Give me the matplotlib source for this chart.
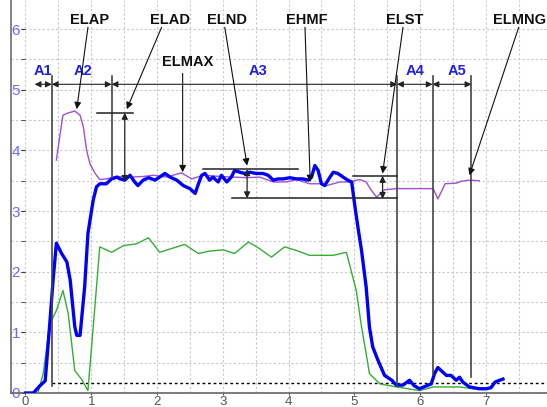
import matplotlib
matplotlib.use("Agg")
import matplotlib.pyplot as plt
from matplotlib.ticker import MultipleLocator

plt.rcParams['font.family'] = ['Liberation Sans', 'DejaVu Sans']

# thick blue curve
blue_x = [0.0, 0.12, 0.22, 0.30, 0.37, 0.42, 0.47, 0.55, 0.63, 0.68, 0.75, 0.78, 0.83, 0.90,
          0.95, 0.98, 1.03, 1.08, 1.13, 1.23, 1.31, 1.39, 1.44, 1.51, 1.59, 1.66, 1.71, 1.79,
          1.87, 1.97, 2.04, 2.12, 2.20, 2.30, 2.40, 2.50, 2.58, 2.63, 2.68, 2.73, 2.80, 2.85,
          2.93, 2.98, 3.06, 3.13, 3.18, 3.26, 3.33, 3.41, 3.51, 3.61, 3.69, 3.77, 3.84, 3.92,
          4.02, 4.12, 4.22, 4.30, 4.35, 4.40, 4.45, 4.50, 4.55, 4.63, 4.68, 4.75, 4.83, 4.90,
          4.96, 5.01, 5.06, 5.11, 5.18, 5.23, 5.28, 5.36, 5.46, 5.57, 5.64, 5.74, 5.84, 5.91,
          5.99, 6.10, 6.17, 6.22, 6.27, 6.32, 6.40, 6.47, 6.55, 6.60, 6.65, 6.75, 6.90, 7.01,
          7.08, 7.14, 7.21, 7.26]
blue_y = [0.0, 0.0, 0.12, 0.20, 1.15, 1.86, 2.47, 2.30, 2.16, 1.86, 1.09, 0.95, 0.95, 1.75,
          2.63, 2.84, 3.18, 3.40, 3.45, 3.45, 3.53, 3.56, 3.53, 3.51, 3.59, 3.48, 3.42, 3.51,
          3.55, 3.51, 3.56, 3.62, 3.56, 3.51, 3.42, 3.37, 3.29, 3.45, 3.59, 3.62, 3.51, 3.56,
          3.48, 3.59, 3.48, 3.56, 3.67, 3.64, 3.62, 3.64, 3.62, 3.62, 3.59, 3.51, 3.53, 3.53,
          3.55, 3.53, 3.53, 3.51, 3.56, 3.75, 3.67, 3.45, 3.42, 3.56, 3.64, 3.62, 3.56, 3.51,
          3.48, 3.07, 2.70, 2.35, 1.75, 1.09, 0.76, 0.54, 0.29, 0.21, 0.13, 0.13, 0.21, 0.12,
          0.07, 0.12, 0.15, 0.32, 0.42, 0.37, 0.29, 0.29, 0.21, 0.26, 0.18, 0.10, 0.07, 0.07,
          0.09, 0.18, 0.21, 0.23]

# thin green curve
green_x = [0.19, 0.27, 0.37, 0.47, 0.57, 0.65, 0.75, 0.85, 0.95, 1.03, 1.13, 1.31, 1.49,
           1.69, 1.87, 2.04, 2.42, 2.63, 2.80, 3.01, 3.18, 3.39, 3.56, 3.74, 3.94, 4.12,
           4.32, 4.68, 4.88, 5.03, 5.11, 5.18, 5.23, 5.39, 5.64, 5.99, 6.20, 6.60, 6.81, 7.08]
green_y = [0.0, 0.32, 1.14, 1.36, 1.69, 1.31, 0.37, 0.23, 0.04, 1.09, 2.41, 2.32, 2.43,
           2.46, 2.56, 2.32, 2.45, 2.30, 2.34, 2.36, 2.30, 2.49, 2.38, 2.24, 2.41, 2.35,
           2.27, 2.27, 2.32, 1.69, 1.09, 0.65, 0.32, 0.15, 0.10, 0.04, 0.10, 0.10, 0.07, 0.07]

# thin purple curve
purple_x = [0.47, 0.52, 0.57, 0.63, 0.75, 0.83, 0.88, 0.93, 0.98, 1.06, 1.13, 1.23, 1.39,
            1.59, 1.79, 1.94, 2.15, 2.37, 2.53, 2.70, 2.96, 3.16, 3.36, 3.56, 3.77, 3.97,
            4.12, 4.32, 4.48, 4.58, 4.78, 4.93, 5.08, 5.18, 5.26, 5.34, 5.46, 5.64, 6.20,
            6.27, 6.32, 6.38, 6.55, 6.62, 6.75, 6.90]
purple_y = [3.84, 4.22, 4.58, 4.61, 4.65, 4.58, 4.39, 4.00, 3.78, 3.62, 3.52, 3.53, 3.57,
            3.56, 3.57, 3.59, 3.56, 3.63, 3.53, 3.59, 3.57, 3.56, 3.55, 3.56, 3.48, 3.48,
            3.52, 3.45, 3.45, 3.42, 3.48, 3.48, 3.52, 3.48, 3.34, 3.23, 3.35, 3.37, 3.37,
            3.20, 3.31, 3.45, 3.46, 3.49, 3.51, 3.50]

threshold = 0.17

# region boundaries and labels
bounds = [0.14, 0.40, 1.31, 5.65, 6.19, 6.78]
bound_bottoms = [0.12, 3.56, 0.12, 0.30, 0.26]
region_names = ["A1", "A2", "A3", "A4", "A5"]
region_label_x = [0.27, 0.87, 3.53, 5.92, 6.56]
band_y = 5.09
bound_top = 5.22

# annotations: name, text position, arrow start, arrow tip
ann_names = ["ELAP", "ELAD", "ELMAX", "ELND", "EHMF", "ELST", "ELMNG"]
ann_text = [(0.98, 6.15), (2.20, 6.15), (2.47, 5.45), (3.06, 6.15), (4.28, 6.15),
            (5.77, 6.15), (7.51, 6.15)]
ann_start = [(0.95, 6.03), (2.07, 6.03), (2.39, 5.27), (3.03, 6.03), (4.25, 6.03),
             (5.74, 6.03), (7.50, 6.03)]
ann_tip = [(0.78, 4.68), (1.54, 4.68), (2.39, 3.64), (3.37, 3.75), (4.33, 3.48),
           (5.43, 3.62), (6.75, 3.59)]

# level markers: (y, x0, x1)
level_lines = [(4.62, 1.09, 1.63), (3.69, 2.70, 4.14), (3.21, 3.14, 5.65), (3.58, 4.98, 5.65)]
# double arrows: (x, y_top, y_bottom)
dim_arrows = [(1.51, 4.62, 3.48), (3.37, 3.69, 3.21), (5.43, 3.58, 3.20)]

fig = plt.figure(figsize=(5.47, 4.07), dpi=100)
ax = fig.add_axes([11 / 547, 14 / 407, 536 / 547, 393 / 407])
ax.set_xlim(-0.22, 7.93)
ax.set_ylim(0, 6.48)

ax.xaxis.set_major_locator(MultipleLocator(1))
ax.xaxis.set_minor_locator(MultipleLocator(0.5))
ax.yaxis.set_major_locator(MultipleLocator(1))
ax.yaxis.set_minor_locator(MultipleLocator(0.5))
ax.grid(True, which='both', color='#c8c8c8', linestyle=(0, (2, 2)), linewidth=0.8)
ax.set_axisbelow(True)

for s in ['top', 'right']:
    ax.spines[s].set_visible(False)
ax.spines['left'].set_position(('data', 0))
ax.spines['left'].set_visible(False)
ax.spines['bottom'].set_color('#666666')
ax.spines['bottom'].set_linewidth(1.2)
ax.plot([0, 0], [0, 1], transform=ax.transAxes, color='#777777', lw=1.3, clip_on=False)

ax.tick_params(axis='y', which='major', direction='out', length=3, pad=1,
               color='#333333', labelcolor='#6a6aff', labelsize=11)
ax.tick_params(axis='y', which='minor', direction='out', length=3, color='#333333')
ax.tick_params(axis='x', which='major', direction='out', length=1.5, pad=0.5,
               color='#555555', labelcolor='#555555', labelsize=9.5)
ax.tick_params(axis='x', which='minor', length=0)
ax.set_yticks([0, 1, 2, 3, 4, 5, 6])
ax.set_xticks([0, 1, 2, 3, 4, 5, 6, 7])

ax.plot(green_x, green_y, color='#33b033', lw=1.0, zorder=3)
ax.plot(purple_x, purple_y, color='#a050d0', lw=1.0, zorder=3)
ax.plot(blue_x, blue_y, color='#0000ff', lw=2.4, zorder=4)

ax.plot([bounds[1], 7.93], [threshold, threshold], color='black', lw=1.0,
        linestyle=(0, (2, 2)), zorder=2)

# region boundaries
for xb, yb in zip(bounds[1:], bound_bottoms):
    ax.plot([xb, xb], [yb, bound_top], color='#444444', lw=1.2, zorder=5)

for i, name in enumerate(region_names):
    ax.annotate('', xy=(bounds[i], band_y), xytext=(bounds[i + 1], band_y),
                arrowprops=dict(arrowstyle='<|-|>', color='#222222', lw=0.8,
                                mutation_scale=9, shrinkA=0, shrinkB=0), zorder=5)
    ax.text(region_label_x[i], band_y + 0.1, name, color='#2020e0', fontsize=10.5,
            fontweight='bold', ha='center', va='bottom')

for y, x0, x1 in level_lines:
    ax.plot([x0, x1], [y, y], color='#222222', lw=1.1, zorder=5)

for x, y0, y1 in dim_arrows:
    ax.annotate('', xy=(x, y0), xytext=(x, y1),
                arrowprops=dict(arrowstyle='<|-|>', color='#222222', lw=0.9,
                                mutation_scale=9, shrinkA=0, shrinkB=0), zorder=5)

for name, tp, sp, ep in zip(ann_names, ann_text, ann_start, ann_tip):
    ax.text(tp[0], tp[1], name, color='#111111', fontsize=10.5, fontweight='bold',
            ha='center', va='center')
    ax.annotate('', xy=ep, xytext=sp,
                arrowprops=dict(arrowstyle='-|>', color='#111111', lw=0.8,
                                mutation_scale=10, shrinkA=0, shrinkB=0), zorder=6)

fig.savefig("out.png", dpi=100, facecolor='white')
